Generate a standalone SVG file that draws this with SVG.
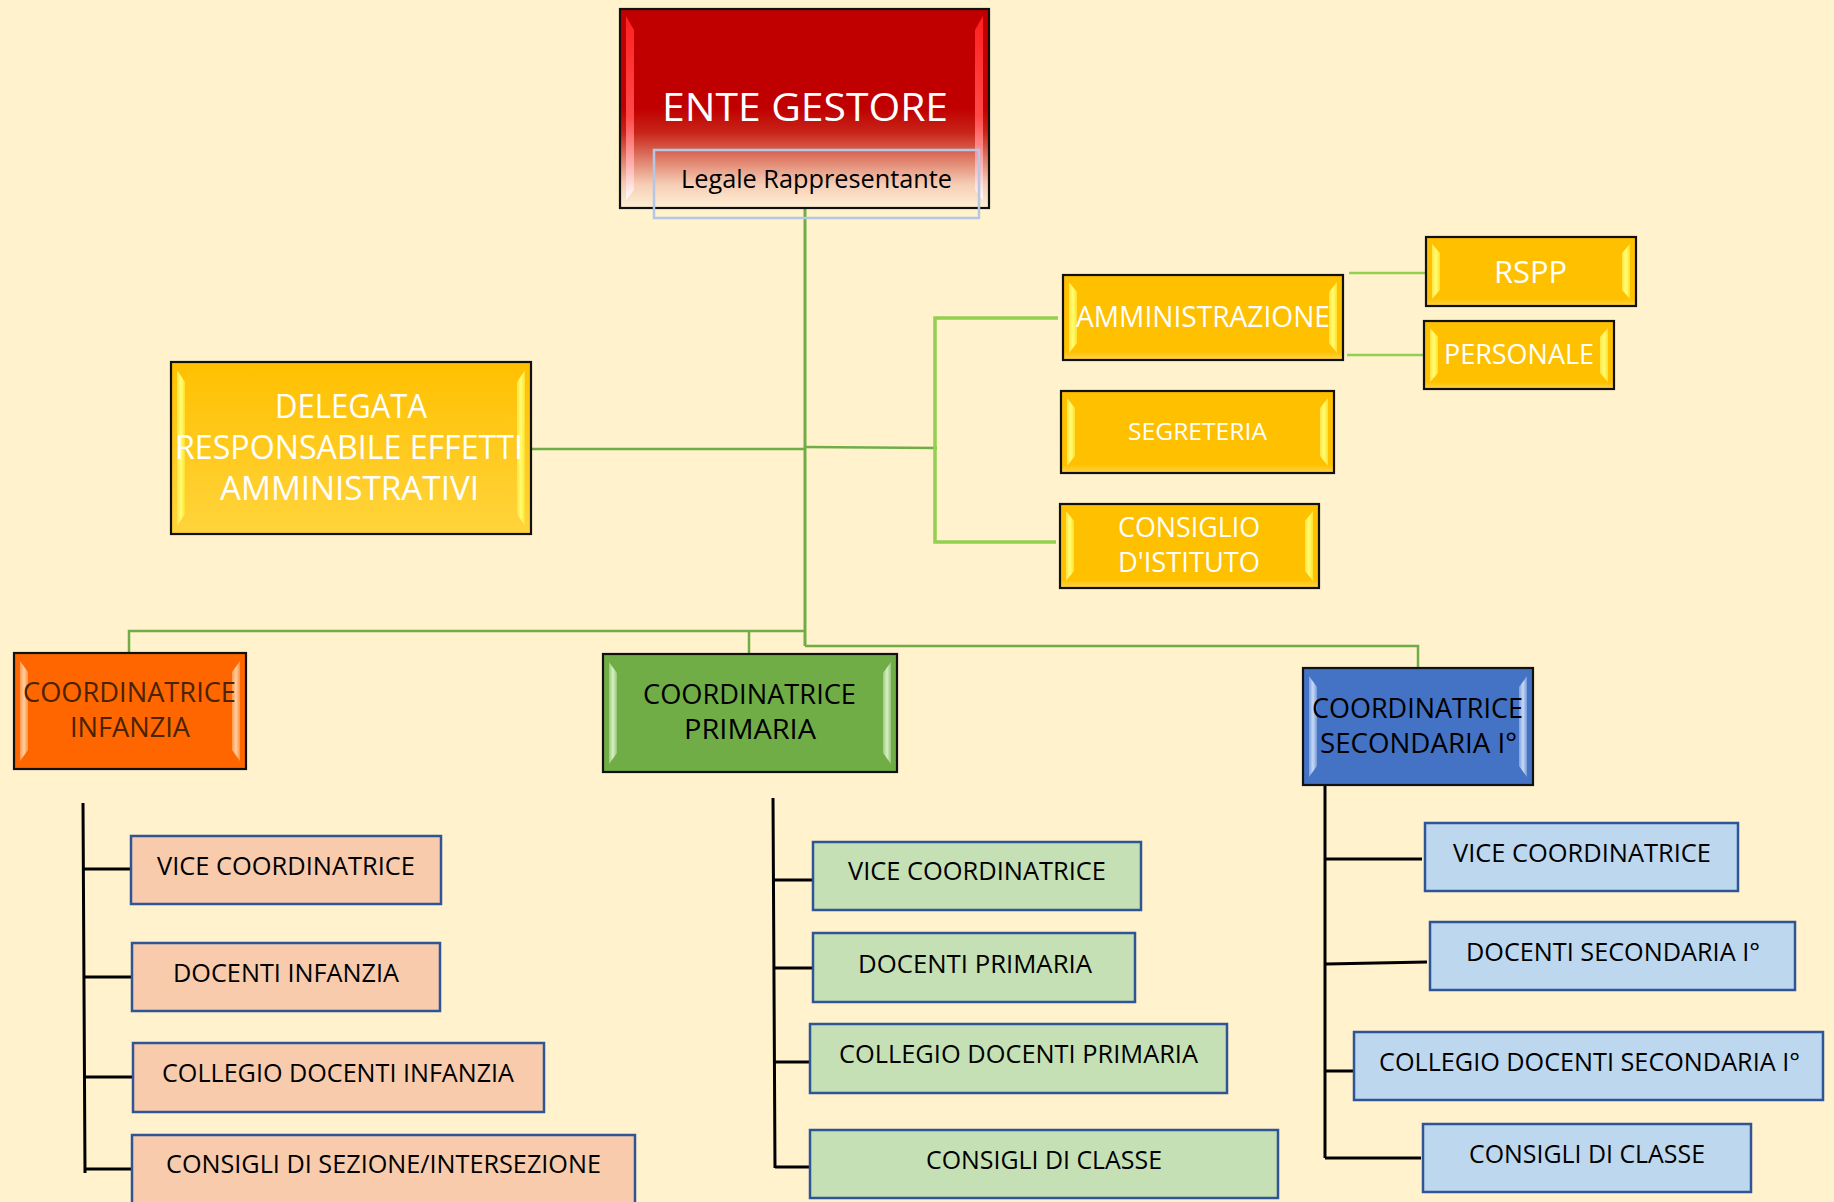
<svg xmlns="http://www.w3.org/2000/svg" width="1834" height="1202" viewBox="0 0 1834 1202">
<defs>
<style>
text{font-family:"Open Sans","Liberation Sans",sans-serif;text-anchor:middle}
.w{fill:#ffffff}
.k{fill:#000000}
.br{fill:#4a2300}
.box{stroke:#111;stroke-width:2.2}
.sub{stroke:#2F5597;stroke-width:2.5}
.g1{fill:none;stroke:#70AD47;stroke-width:3}
.g2{fill:none;stroke:#70AD47;stroke-width:2.5}
.g3{fill:none;stroke:#92D050;stroke-width:3.5}
.bk{fill:none;stroke:#000;stroke-width:3}
.fs25{font-size:25.5px}
.fs28{font-size:28px}
</style>
<linearGradient id="gRed" x1="0" y1="0" x2="0" y2="1">
<stop offset="0" stop-color="#C00000"/>
<stop offset="0.5" stop-color="#C00000"/>
<stop offset="0.62" stop-color="#C82418"/>
<stop offset="0.75" stop-color="#DE7A66"/>
<stop offset="0.88" stop-color="#F5CDB4"/>
<stop offset="1" stop-color="#FFF0D6"/>
</linearGradient>
<linearGradient id="gRedHl" x1="0" y1="0" x2="0" y2="1">
<stop offset="0" stop-color="#FF2020"/>
<stop offset="0.55" stop-color="#FF4A4A"/>
<stop offset="1" stop-color="#FFFFFF"/>
</linearGradient>
<linearGradient id="gYel" x1="0" y1="0" x2="0" y2="1">
<stop offset="0" stop-color="#FFC000"/>
<stop offset="0.08" stop-color="#FFC000"/>
<stop offset="0.9" stop-color="#FFC000"/>
<stop offset="1" stop-color="#FFD54A"/>
</linearGradient>
<linearGradient id="gYel2" x1="0" y1="0" x2="0" y2="1">
<stop offset="0" stop-color="#FFC000"/>
<stop offset="1" stop-color="#FFD43C"/>
</linearGradient>
<linearGradient id="hlY" x1="0" y1="0" x2="1" y2="0">
<stop offset="0" stop-color="#FFE24A"/>
<stop offset="0.5" stop-color="#FFFF70"/>
<stop offset="1" stop-color="#FFE030"/>
</linearGradient>
<linearGradient id="hlO" x1="0" y1="0" x2="1" y2="0">
<stop offset="0" stop-color="#FF9A50"/>
<stop offset="0.5" stop-color="#FFD0A0"/>
<stop offset="1" stop-color="#FF9040"/>
</linearGradient>
<linearGradient id="hlG" x1="0" y1="0" x2="1" y2="0">
<stop offset="0" stop-color="#9CCB7C"/>
<stop offset="0.5" stop-color="#D8F0C4"/>
<stop offset="1" stop-color="#94C776"/>
</linearGradient>
<linearGradient id="hlB" x1="0" y1="0" x2="1" y2="0">
<stop offset="0" stop-color="#7DA0DE"/>
<stop offset="0.5" stop-color="#C8DAF6"/>
<stop offset="1" stop-color="#7498D8"/>
</linearGradient>
</defs>

<rect x="0" y="0" width="1834" height="1202" fill="#FFF2CC"/>

<g id="connectors">
<path class="g1" d="M805,207 V646"/>
<path class="g2" d="M531,449 H805"/>
<path class="g2" d="M805,447 L937,448"/>
<path class="g3" d="M1058,318 H935 V542 H1056"/>
<path class="g3" style="stroke-width:2.5" d="M1349,273 H1427"/>
<path class="g3" style="stroke-width:2.5" d="M1347,355 H1424"/>
<path class="g2" d="M129,653 V631 H805"/>
<path class="g2" d="M749,654 V632"/>
<path class="g2" d="M805,646 H1418 V668"/>
<path class="bk" d="M83,803 L85,1173 M84,869 H131 M84,977 H132 M85,1077 H133 M85,1169 H132"/>
<path class="bk" d="M773,798 L775,1168 M774,880 H813 M774,968 H813 M775,1062 H810 M775,1167 H810"/>
<path class="bk" d="M1325,783 V1158 M1325,859 H1422 M1326,964 L1427,962 M1325,1071 H1354 M1325,1158 H1421"/>
</g>

<g id="ente-gestore">
<rect class="box" x="620" y="9" width="369" height="199" fill="url(#gRed)"/>
<polygon points="626,16 634,30 634,190 626,200" fill="url(#gRedHl)"/>
<polygon points="983,16 975,30 975,190 983,200" fill="url(#gRedHl)"/>
<text class="w" x="805" y="121" font-size="38" textLength="286" lengthAdjust="spacingAndGlyphs">ENTE GESTORE</text>
<rect x="654" y="150" width="325" height="68" fill="none" stroke="#B4C7E7" stroke-width="2.5"/>
<text class="k" x="816.5" y="188" font-size="25" textLength="271" lengthAdjust="spacingAndGlyphs">Legale Rappresentante</text>
</g>

<g id="delegata">
<rect class="box" x="171" y="362" width="360" height="172" fill="url(#gYel2)"/>
<polygon points="177,370 185,382 185,514 177,526" fill="url(#hlY)"/>
<polygon points="525,370 517,382 517,514 525,526" fill="url(#hlY)"/>
<text class="w" x="351" y="418" font-size="32.5" textLength="152" lengthAdjust="spacingAndGlyphs">DELEGATA</text>
<text class="w" x="349" y="459" font-size="32.5" textLength="348" lengthAdjust="spacingAndGlyphs">RESPONSABILE EFFETTI</text>
<text class="w" x="349.5" y="500" font-size="32.5" textLength="259" lengthAdjust="spacingAndGlyphs">AMMINISTRATIVI</text>
</g>

<g id="amministrazione">
<rect class="box" x="1063" y="275" width="280" height="85" fill="url(#gYel)"/>
<polygon points="1069,282 1077,292 1077,343 1069,353" fill="url(#hlY)"/>
<polygon points="1337,282 1329,292 1329,343 1337,353" fill="url(#hlY)"/>
<text class="w" x="1203" y="327" font-size="29" textLength="254" lengthAdjust="spacingAndGlyphs">AMMINISTRAZIONE</text>
</g>

<g id="rspp">
<rect class="box" x="1426" y="237" width="210" height="69" fill="url(#gYel)"/>
<polygon points="1432,244 1440,253 1440,290 1432,299" fill="url(#hlY)"/>
<polygon points="1630,244 1622,253 1622,290 1630,299" fill="url(#hlY)"/>
<text class="w" x="1530.5" y="283" font-size="31" textLength="73" lengthAdjust="spacingAndGlyphs">RSPP</text>
</g>

<g id="personale">
<rect class="box" x="1424" y="321" width="190" height="68" fill="url(#gYel)"/>
<polygon points="1430,328 1438,337 1438,373 1430,382" fill="url(#hlY)"/>
<polygon points="1608,328 1600,337 1600,373 1608,382" fill="url(#hlY)"/>
<text class="w" x="1519" y="364" font-size="28" textLength="150" lengthAdjust="spacingAndGlyphs">PERSONALE</text>
</g>

<g id="segreteria">
<rect class="box" x="1061" y="391" width="273" height="82" fill="url(#gYel)"/>
<polygon points="1067,398 1075,408 1075,456 1067,466" fill="url(#hlY)"/>
<polygon points="1328,398 1320,408 1320,456 1328,466" fill="url(#hlY)"/>
<text class="w" x="1197.5" y="440" font-size="24" textLength="139" lengthAdjust="spacingAndGlyphs">SEGRETERIA</text>
</g>

<g id="consiglio-istituto">
<rect class="box" x="1060" y="504" width="259" height="84" fill="url(#gYel)"/>
<polygon points="1066,511 1074,521 1074,571 1066,581" fill="url(#hlY)"/>
<polygon points="1313,511 1305,521 1305,571 1313,581" fill="url(#hlY)"/>
<text class="w" x="1189" y="537" font-size="27.5" textLength="142" lengthAdjust="spacingAndGlyphs">CONSIGLIO</text>
<text class="w" x="1189" y="572" font-size="27.5" textLength="142" lengthAdjust="spacingAndGlyphs">D'ISTITUTO</text>
</g>

<g id="coord-infanzia">
<rect class="box" x="14" y="653" width="232" height="116" fill="#FF6600"/>
<polygon points="20,661 28,672 28,750 20,761" fill="url(#hlO)"/>
<polygon points="240,661 232,672 232,750 240,761" fill="url(#hlO)"/>
<text class="br fs28" x="129.5" y="702" textLength="213" lengthAdjust="spacingAndGlyphs">COORDINATRICE</text>
<text class="br fs28" x="130" y="737" textLength="120" lengthAdjust="spacingAndGlyphs">INFANZIA</text>
</g>

<g id="coord-primaria">
<rect class="box" x="603" y="654" width="294" height="118" fill="#70AD47"/>
<polygon points="609,662 617,673 617,753 609,764" fill="url(#hlG)"/>
<polygon points="891,662 883,673 883,753 891,764" fill="url(#hlG)"/>
<text class="k fs28" x="749.5" y="704" textLength="213" lengthAdjust="spacingAndGlyphs">COORDINATRICE</text>
<text class="k fs28" x="750" y="739" textLength="132" lengthAdjust="spacingAndGlyphs">PRIMARIA</text>
</g>

<g id="coord-secondaria">
<rect class="box" x="1303" y="668" width="230" height="117" fill="#4472C4"/>
<polygon points="1309,676 1317,687 1317,766 1309,777" fill="url(#hlB)"/>
<polygon points="1527,676 1519,687 1519,766 1527,777" fill="url(#hlB)"/>
<text class="k fs28" x="1417.5" y="718" textLength="211" lengthAdjust="spacingAndGlyphs">COORDINATRICE</text>
<text class="k fs28" x="1418.5" y="753" textLength="197" lengthAdjust="spacingAndGlyphs">SECONDARIA I°</text>
</g>

<g id="inf-vice">
<rect class="sub" x="131" y="836" width="310" height="68" fill="#F8CBAD"/>
<text class="k fs25" x="286" y="875" textLength="258" lengthAdjust="spacingAndGlyphs">VICE COORDINATRICE</text>
</g>
<g id="inf-docenti">
<rect class="sub" x="132" y="943" width="308" height="68" fill="#F8CBAD"/>
<text class="k fs25" x="286" y="982" textLength="226" lengthAdjust="spacingAndGlyphs">DOCENTI INFANZIA</text>
</g>
<g id="inf-collegio">
<rect class="sub" x="133" y="1043" width="411" height="69" fill="#F8CBAD"/>
<text class="k fs25" x="338" y="1082" textLength="352" lengthAdjust="spacingAndGlyphs">COLLEGIO DOCENTI INFANZIA</text>
</g>
<g id="inf-consigli">
<rect class="sub" x="132" y="1135" width="503" height="80" fill="#F8CBAD"/>
<text class="k fs25" x="383.5" y="1173" textLength="435" lengthAdjust="spacingAndGlyphs">CONSIGLI DI SEZIONE/INTERSEZIONE</text>
</g>

<g id="pri-vice">
<rect class="sub" x="813" y="842" width="328" height="68" fill="#C5E0B4"/>
<text class="k fs25" x="977" y="880" textLength="258" lengthAdjust="spacingAndGlyphs">VICE COORDINATRICE</text>
</g>
<g id="pri-docenti">
<rect class="sub" x="813" y="933" width="322" height="69" fill="#C5E0B4"/>
<text class="k fs25" x="975" y="973" textLength="234" lengthAdjust="spacingAndGlyphs">DOCENTI PRIMARIA</text>
</g>
<g id="pri-collegio">
<rect class="sub" x="810" y="1024" width="417" height="69" fill="#C5E0B4"/>
<text class="k fs25" x="1018.5" y="1063" textLength="359" lengthAdjust="spacingAndGlyphs">COLLEGIO DOCENTI PRIMARIA</text>
</g>
<g id="pri-consigli">
<rect class="sub" x="810" y="1130" width="468" height="68" fill="#C5E0B4"/>
<text class="k fs25" x="1044" y="1169" textLength="236" lengthAdjust="spacingAndGlyphs">CONSIGLI DI CLASSE</text>
</g>

<g id="sec-vice">
<rect class="sub" x="1425" y="823" width="313" height="68" fill="#BDD7EE"/>
<text class="k fs25" x="1582" y="862" textLength="258" lengthAdjust="spacingAndGlyphs">VICE COORDINATRICE</text>
</g>
<g id="sec-docenti">
<rect class="sub" x="1430" y="922" width="365" height="68" fill="#BDD7EE"/>
<text class="k fs25" x="1613" y="961" textLength="294" lengthAdjust="spacingAndGlyphs">DOCENTI SECONDARIA I°</text>
</g>
<g id="sec-collegio">
<rect class="sub" x="1354" y="1032" width="469" height="68" fill="#BDD7EE"/>
<text class="k fs25" x="1589.5" y="1071" textLength="421" lengthAdjust="spacingAndGlyphs">COLLEGIO DOCENTI SECONDARIA I°</text>
</g>
<g id="sec-consigli">
<rect class="sub" x="1423" y="1124" width="328" height="68" fill="#BDD7EE"/>
<text class="k fs25" x="1587" y="1163" textLength="236" lengthAdjust="spacingAndGlyphs">CONSIGLI DI CLASSE</text>
</g>
</svg>
